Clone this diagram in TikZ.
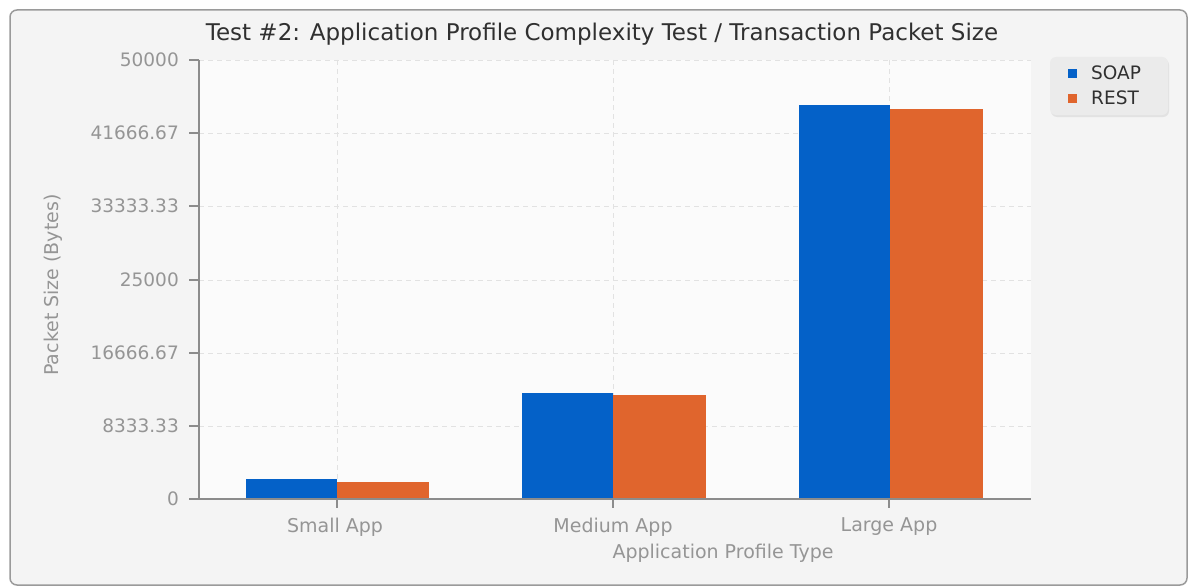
\documentclass[tikz,border=0pt]{standalone}
\usepackage{fontspec}
\setmainfont{DejaVu Sans}
\usetikzlibrary{shadows}
\definecolor{panelbg}{HTML}{F4F4F4}
\definecolor{plotbg}{HTML}{FBFBFB}
\definecolor{framegray}{HTML}{9A9A9A}
\definecolor{axisgray}{HTML}{8C8C8C}
\definecolor{gridgray}{HTML}{E2E2E2}
\definecolor{labelgray}{HTML}{959595}
\definecolor{titlegray}{HTML}{303030}
\definecolor{soapblue}{HTML}{0461C8}
\definecolor{restorange}{HTML}{E0652D}
\definecolor{legendbg}{HTML}{EBEBEB}
\tikzset{
  ticklabel/.style={text=labelgray, font=\fontsize{18.5}{18.5}\selectfont, inner sep=0pt},
  catlabel/.style={text=labelgray, font=\fontsize{19}{19}\selectfont, inner sep=0pt},
  gridline/.style={gridgray, dashed, dash pattern=on 5pt off 4pt, line width=0.8pt},
  axisline/.style={axisgray, line width=1.2pt},
  soapbar/.style={fill=soapblue, draw=none},
  restbar/.style={fill=restorange, draw=none},
  legendtext/.style={text=titlegray, font=\fontsize{18.5}{18.5}\selectfont, inner sep=0pt, anchor=west},
}
\begin{document}
\begin{tikzpicture}[x=1pt, y=-1pt]
  \useasboundingbox (0,0) rectangle (1193,586);
  \fill[white] (0,0) rectangle (1193,586);
  % outer panel
  \draw[framegray, line width=1.5pt, fill=panelbg, rounded corners=7pt] (10,10) rectangle (1187,585);
  % plot area
  \fill[plotbg] (199,60) rectangle (1031,499);
  % grid
  \foreach \yy in {60,133,206,280,353,426}
    \draw[gridline] (199,\yy) -- (1031,\yy);
  \foreach \xx in {337,613,889}
    \draw[gridline] (\xx,60) -- (\xx,499);
  % bars: y = 499 - v/50000*439
  \fill[soapbar] (246,479) rectangle (337,499);
  \fill[restbar] (337,482) rectangle (429,499);
  \fill[soapbar] (522,393) rectangle (613,499);
  \fill[restbar] (613,395) rectangle (706,499);
  \fill[soapbar] (799,105) rectangle (890,499);
  \fill[restbar] (890,109) rectangle (983,499);
  % axes
  \draw[axisline] (199,60) -- (199,499) -- (1031,499);
  \foreach \yy in {60,133,206,280,353,426,499}
    \draw[axisline] (189,\yy) -- (199,\yy);
  \foreach \xx in {337,613,889}
    \draw[axisline] (\xx,499) -- (\xx,508);
  % y tick labels
  \node[ticklabel, anchor=east] (y0) at (179,499) {0};
  \node[ticklabel, anchor=east] (y1) at (179,426) {8333.33};
  \node[ticklabel, anchor=east] (y2) at (179,353) {16666.67};
  \node[ticklabel, anchor=east] (y3) at (179,280) {25000};
  \node[ticklabel, anchor=east] (y4) at (179,206) {33333.33};
  \node[ticklabel, anchor=east] (y5) at (179,133) {41666.67};
  \node[ticklabel, anchor=east] (y6) at (179,60) {50000};
  % category labels
  \node[catlabel] (cs) at (335,527) {Small App};
  \node[catlabel] (cm) at (613,527) {Medium App};
  \node[catlabel] (cl) at (889,527) {Large App};
  % axis titles
  \node[catlabel] (xt) at (723,553) {Application Profile Type};
  \node[catlabel, rotate=90] (yt) at (53,285) {Packet Size (Bytes)};
  % title
  \node[text=titlegray, font=\fontsize{23}{23}\selectfont, inner sep=0pt] (title) at (602,34)
    {Test \#2: Application Profile Complexity Test / Transaction Packet Size};
  % legend
  \node[draw=none, fill=legendbg, rounded corners=6pt, minimum width=118pt, minimum height=58pt,
        drop shadow={shadow xshift=1pt, shadow yshift=-2pt, opacity=0.15}] (legend) at (1109,86) {};
  \fill[soapblue] (1068,69) rectangle (1077,78);
  \fill[restorange] (1068,94) rectangle (1077,103);
  \node[legendtext] (lsoap) at (1091,73) {SOAP};
  \node[legendtext] (lrest) at (1091,98) {REST};
\end{tikzpicture}
\end{document}
